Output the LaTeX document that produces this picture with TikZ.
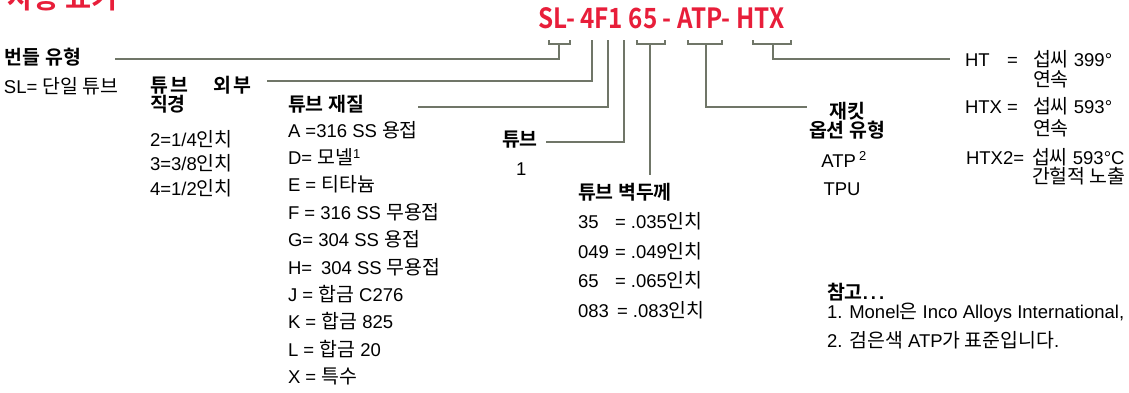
\documentclass[tikz,border=0pt]{standalone}
\usepackage{tikz}
\usepackage{graphicx}
\usepackage{fontspec}
\setmainfont{Liberation Sans}
\newfontfamily\kofont{Noto Sans CJK KR}[Scale=1.05, BoldFont={Noto Sans CJK KR Bold}]
\newcommand\ko[1]{{\kofont #1}}
\definecolor{codered}{RGB}{232,30,58}
\definecolor{linecol}{RGB}{112,118,104}
\tikzset{
  lbl/.style={inner sep=0pt, outer sep=0pt, anchor=base west, font=\fontsize{18.5}{22}\selectfont},
  hd/.style={lbl, font=\fontsize{18.5}{22}\selectfont\bfseries},
  conn/.style={draw=linecol, line width=1.2pt},
  brk/.style={draw=linecol, line width=1.2pt},
}
\begin{document}
\begin{tikzpicture}[x=1pt, y=-1pt]
\useasboundingbox (0,0) rectangle (1129,392);
\fill[white] (0,0) rectangle (1129,392);

% title (cut by top edge)
\node[inner sep=0pt, anchor=base west, text=codered, font=\fontsize{27}{30}\selectfont\bfseries] (title) at (7,8.5) {\ko{사용 표기}};

% ordering code
\node[inner sep=0pt, anchor=south west, text=codered, font=\fontsize{30}{30}\selectfont\bfseries] (code) at (538,29.5)
  {\resizebox{246pt}{21pt}{\kofont SL- 4F1 65 - ATP- HTX}};

% brackets under the code
\draw[brk] (549,40) -- (549,44) -- (570,44) -- (570,40);
\draw[brk] (637,40) -- (637,44) -- (665,44) -- (665,40);
\draw[brk] (688,40) -- (688,44) -- (722,44) -- (722,40);
\draw[brk] (753,40) -- (753,44) -- (791,44) -- (791,40);

% connector anchor points
\coordinate (sSL) at (559,44);   \coordinate (eSL) at (115,59);
\coordinate (sOD) at (592,40);   \coordinate (eOD) at (267,81);
\coordinate (sMT) at (608,40);   \coordinate (eMT) at (418,107);
\coordinate (sTB) at (624,40);   \coordinate (eTB) at (546,142);
\coordinate (sWT) at (650,44);   \coordinate (eWT) at (650,175);
\coordinate (sJK) at (706,44);   \coordinate (eJK) at (807,107);
\coordinate (sHT) at (773,44);   \coordinate (eHT) at (950,59);

\draw[conn] (sSL) |- (eSL);
\draw[conn] (sOD) |- (eOD);
\draw[conn] (sMT) |- (eMT);
\draw[conn] (sTB) |- (eTB);
\draw[conn] (sWT) -- (eWT);
\draw[conn] (sJK) |- (eJK);
\draw[conn] (sHT) |- (eHT);

% bundle type
\node[hd] (bundle) at (5,64) {\ko{번들 유형}};
\node[lbl] (bundle1) at (4,93) {SL= \ko{단일 튜브}};

% tube OD
\node[hd] (od1) at (150,92) {\ko{튜\hspace{3pt}브}};
\node[hd] (od2) at (213,92) {\ko{외\hspace{3pt}부}};
\node[hd] (od3) at (150,111) {\ko{직경}};
\node[lbl] (od4) at (150,146) {2=1/4\ko{인치}};
\node[lbl] (od5) at (150,170.5) {3=3/8\ko{인치}};
\node[lbl] (od6) at (150,195) {4=1/2\ko{인치}};

% tube material
\node[hd] (mt) at (288,111) {\ko{튜브 재질}};
\node[lbl] (mtA) at (288,137) {A =316 SS \ko{용접}};
\node[lbl] (mtD) at (288,164.4) {D= \ko{모넬}\textsuperscript{1}};
\node[lbl] (mtE) at (288,191.8) {E = \ko{티타늄}};
\node[lbl] (mtF) at (288,219.2) {F = 316 SS \ko{무용접}};
\node[lbl] (mtG) at (288,246.6) {G= 304 SS \ko{용접}};
\node[lbl] (mtH) at (288,274) {H=\hspace{0.48em}304 SS \ko{무용접}};
\node[lbl] (mtJ) at (288,301.4) {J = \ko{합금} C276};
\node[lbl] (mtK) at (288,328.8) {K = \ko{합금} 825};
\node[lbl] (mtL) at (288,356.2) {L = \ko{합금} 20};
\node[lbl] (mtX) at (288,383.6) {X = \ko{특수}};

% tube
\node[hd] (tb) at (502,146) {\ko{튜브}};
\node[lbl] (tb1) at (516,175) {1};

% wall thickness
\node[hd] (wt) at (578,199) {\ko{튜브 벽두께}};
\node[lbl] (wt1a) at (578,228) {35};
\node[lbl] (wt1b) at (615,228) {= .035\ko{인치}};
\node[lbl] (wt2a) at (578,258) {049};
\node[lbl] (wt2b) at (615,258) {= .049\ko{인치}};
\node[lbl] (wt3a) at (578,287.5) {65};
\node[lbl] (wt3b) at (615,287.5) {= .065\ko{인치}};
\node[lbl] (wt4a) at (578,317) {083};
\node[lbl] (wt4b) at (617,317) {= .083\ko{인치}};

% jacket
\node[hd, anchor=base] (jk1) at (847,118) {\ko{재킷}};
\node[hd, anchor=base] (jk2) at (847,137) {\ko{옵션 유형}};
\node[lbl, anchor=base] (jk3) at (844,167) {ATP\,\textsuperscript{2}};
\node[lbl, anchor=base] (jk4) at (842,195) {TPU};

% heat options
\node[lbl] (h1a) at (965,66) {HT};
\node[lbl] (h1b) at (1007,66) {=};
\node[lbl] (h1c) at (1033,66) {\ko{섭씨} 399°};
\node[lbl] (h1d) at (1033,86) {\ko{연속}};
\node[lbl] (h2a) at (965,113) {HTX};
\node[lbl] (h2b) at (1007,113) {=};
\node[lbl] (h2c) at (1033,113) {\ko{섭씨} 593°};
\node[lbl] (h2d) at (1033,135) {\ko{연속}};
\node[lbl] (h3a) at (966,164) {HTX2=};
\node[lbl] (h3c) at (1032,164) {\ko{섭씨} 593°C};
\node[lbl] (h3d) at (1032,183) {\ko{간헐적 노출}};

% notes
\node[hd] (nt) at (827,299) {\ko{참고}.\,.\,.};
\node[lbl] (nt1) at (827,318) {1. Monel\ko{은} Inco Alloys International,};
\node[lbl] (nt2) at (827,347) {2. \ko{검은색} ATP\ko{가 표준입니다}.};
\end{tikzpicture}
\end{document}
